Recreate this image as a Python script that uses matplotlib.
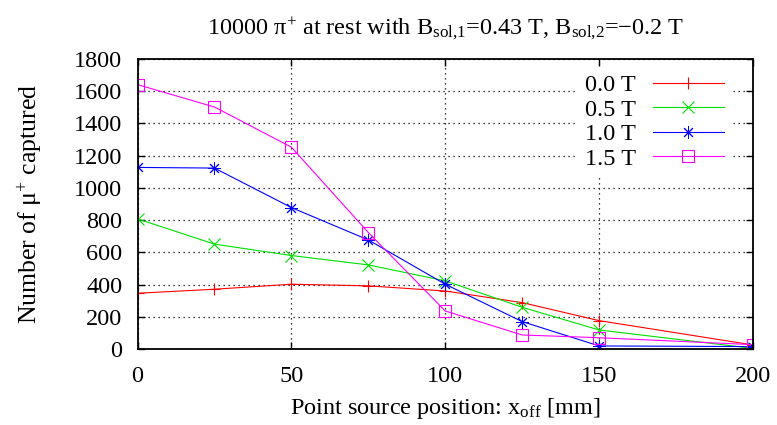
import matplotlib
matplotlib.use("Agg")
import matplotlib.pyplot as plt

plt.rcParams['font.family'] = ['Liberation Serif', 'DejaVu Serif']
plt.rcParams['mathtext.fontset'] = 'custom'
plt.rcParams['mathtext.rm'] = 'Liberation Serif'
plt.rcParams['mathtext.it'] = 'Liberation Serif:italic'
plt.rcParams['mathtext.bf'] = 'Liberation Serif:bold'

x_off = [0, 25, 50, 75, 100, 125, 150, 200]
captured_00T = [346, 371, 402, 392, 360, 288, 176, 25]
captured_05T = [808, 651, 580, 522, 423, 259, 118, 4]
captured_10T = [1127, 1123, 878, 677, 402, 170, 19, 15]
captured_15T = [1641, 1502, 1253, 723, 236, 87, 70, 27]
labels = ["0.0 T", "0.5 T", "1.0 T", "1.5 T"]
x_ticks = [0, 50, 100, 150, 200]
y_ticks = [0, 200, 400, 600, 800, 1000, 1200, 1400, 1600, 1800]

fig = plt.figure(figsize=(7.77, 4.25), dpi=100)
ax = fig.add_axes([137.5/777, 1-349/425, (753-137.5)/777, (349-59)/425])

fs = 17.5
ax.plot(x_off, captured_00T, color='#ff0000', lw=0.8, marker='+', ms=9, mew=0.8, label=labels[0])
ax.plot(x_off, captured_05T, color='#00e000', lw=0.8, marker='x', ms=8, mew=0.8, label=labels[1])
ax.plot(x_off, captured_10T, color='#0000ff', lw=0.8, marker=(8, 2, 0), ms=9, mew=0.7, label=labels[2])
ax.plot(x_off, captured_15T, color='#ff00ff', lw=0.8, marker='s', ms=8, mew=0.8, mfc='none', label=labels[3])

ax.set_xlim(0, 200)
ax.set_ylim(0, 1800)
ax.set_xticks(x_ticks)
ax.set_yticks(y_ticks)
ax.tick_params(direction='in', length=5, width=1, top=True, right=True, labelsize=fs)
ax.tick_params(axis='y', pad=11)
ax.tick_params(axis='x', pad=12)
ax.grid(True, color='black', linestyle=(0, (1, 3)), linewidth=0.9)
for s in ax.spines.values():
    s.set_linewidth(1.3)

ax.set_title(r"10000 π$^{+}$ at rest with B$_{\mathrm{sol{,}1}}$=0.43 T, B$_{\mathrm{sol{,}2}}$=−0.2 T",
             fontsize=fs, pad=18)
ax.set_xlabel(r"Point source position: x$_{\mathrm{off}}$ [mm]", fontsize=fs, labelpad=7)
ax.set_ylabel(r"Number of μ$^{+}$ captured", fontsize=18.5, labelpad=21)

leg = ax.legend(loc='upper right', markerfirst=False, fontsize=fs, frameon=True,
                handlelength=2.9, handletextpad=0.7, labelspacing=0.1, borderaxespad=0.0,
                borderpad=0.3, bbox_to_anchor=((724 - 137.5 + 7) / 615.5, 1 - 8 / 290))
leg.get_frame().set_facecolor('white')
leg.get_frame().set_edgecolor('none')
leg.get_frame().set_alpha(1.0)

fig.savefig("out.png", dpi=100)
